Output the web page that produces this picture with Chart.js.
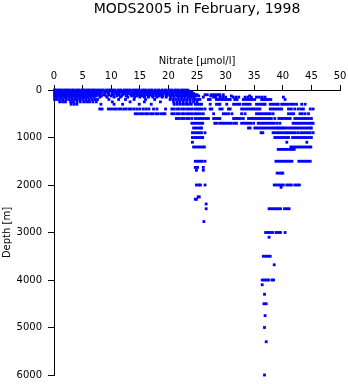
<!DOCTYPE html>
<html>
<head>
<meta charset="utf-8">
<script src="https://cdn.jsdelivr.net/npm/chart.js@4/dist/chart.umd.min.js"></script>
<style>
  html, body { margin: 0; padding: 0; background: #fff; }
  #wrap { width: 348px; height: 384px; }
</style>
</head>
<body>
<div id="wrap"><canvas id="chart" width="348" height="384"></canvas></div>
<script>
// Observed depth levels [m] and the nitrate values [umol/l] read at each level
const depthLevels = [0, 20, 50, 75, 100, 125, 150, 200, 250, 300, 400, 500, 600, 700, 800, 900, 1000,
  1100, 1200, 1250, 1500, 1630, 1690, 1750, 2000, 2050, 2250, 2300, 2400, 2500, 2770, 3000, 3100,
  3500, 3680, 4000, 4100, 4300, 4500, 4750, 5000, 5300, 6000];

const nitrateAtLevel = [
  // 0 m
  [0.1,0.5,0.9,1.3,1.8,2.2,2.6,3.1,3.5,4.0,4.4,4.9,5.3,5.8,6.2,6.7,7.1,7.6,8.1,8.6,9.2,9.7,10.1,10.6,11.2,11.7,
   12.3,12.8,13.3,13.9,14.4,14.9,15.5,16.0,16.6,17.1,17.7,18.3,18.9,19.5,20.1,20.6,21.2,21.7,22.3,22.8,23.3],
  // 20 m
  [0.2,0.7,1.1,1.6,2.0,2.5,2.9,3.4,3.8,4.3,4.7,5.2,5.6,6.1,6.5,7.0,7.4,7.9,8.4,8.9,9.4,10.0,10.5,11.0,11.5,12.0,
   12.6,13.1,13.6,14.2,14.7,15.2,15.8,16.3,16.9,17.4,18.0,18.6,19.2,19.8,20.4,20.9,21.5,22.0,22.6,23.1,23.6],
  // 50 m
  [0.1,0.6,1.0,1.5,2.0,2.4,2.9,3.3,3.8,4.2,4.7,5.1,5.6,6.0,6.5,6.9,7.4,7.8,8.3,9.0,9.6,10.3,10.8,11.4,11.9,12.5,
   13.0,13.7,14.3,14.8,15.4,15.9,16.5,17.0,17.6,18.2,18.7,19.3,19.9,20.5,21.1,21.6,22.2,22.7,23.2,23.7,24.1],
  // 75 m
  [0.2,0.6,1.1,1.5,2.0,2.4,2.9,3.3,3.8,4.2,4.7,5.1,5.6,6.0,6.5,7.0,7.5,8.1,8.8,9.5,10.2,10.9,11.4,12.2,12.9,13.5,
   14.1,14.6,15.2,15.7,16.3,16.8,17.4,18.0,18.5,19.1,19.7,20.3,20.8,21.4,21.9,22.5,23.0,23.5,24.0,24.4],
  // 100 m
  [0.1,0.5,1.0,1.4,1.9,2.3,2.8,3.2,3.7,4.1,4.6,5.0,5.5,5.9,6.4,6.8,7.3,7.9,8.7,9.6,10.4,11.3,12.0,12.7,13.4,14.0,
   14.6,15.1,15.7,16.2,16.8,17.3,17.9,18.5,19.0,19.6,20.2,20.7,21.3,21.8,22.4,22.9,23.4,23.9,24.3,24.7,25.0,
   26.4,26.8,27.5,27.9,28.3,28.7,29.0,29.6],
  // 125 m
  [0.2,0.6,1.1,1.5,2.0,2.4,2.9,3.3,3.8,4.2,4.7,5.1,5.6,6.0,6.5,6.9,7.4,8.3,9.1,10.0,11.0,11.8,12.6,13.6,14.5,15.3,
   15.9,16.6,17.2,17.8,18.4,19.0,19.7,20.3,20.9,21.5,22.1,22.6,23.2,23.7,24.2,24.8,25.3,27.4,31.0,34.2],
  // 150 m
  [0.1,0.5,1.0,1.4,1.9,2.3,2.8,3.2,3.7,4.1,4.6,5.0,5.5,5.9,6.4,7.0,8.0,9.3,10.5,11.6,12.9,14.1,15.0,15.8,16.5,17.3,
   18.0,18.9,19.6,20.4,21.0,21.7,22.3,22.9,23.5,24.0,24.5,26.1,27.9,28.3,29.0,29.5,30.0,31.3,31.8,32.3,
   33.4,33.9,34.5,35.4,35.9,36.4,36.9,40.1],
  // 200 m
  [0.1,0.6,1.1,1.6,2.1,2.6,3.1,3.6,4.1,4.6,5.1,5.6,6.1,6.6,7.1,7.6,9.6,11.3,12.5,14.0,16.0,17.6,20.3,20.8,21.3,
   21.8,22.3,22.8,23.3,23.8,24.3,24.7,25.1,25.5,27.0,27.3,28.4,28.8,29.2,29.6,30.0,30.4,30.8,31.6,32.0,
   33.1,33.5,33.9,34.3,34.7,35.1,36.3,36.7,37.1,37.5,37.9,40.4],
  // 250 m
  [1.0,1.5,2.0,2.9,3.4,4.0,4.6,5.2,5.7,6.2,6.8,7.4,10.2,13.3,15.8,18.6,20.9,21.5,22.0,22.6,23.2,23.8,24.4,25.0],
  // 300 m
  [3.0,3.5,4.0,8.2,10.5,12.0,14.9,17.0,21.0,21.5,22.0,22.5,23.0,23.5,24.0,24.7,25.1,25.5,25.8,27.3,28.4,28.8,
   29.0,30.2,31.4,31.8,32.2,32.5,33.1,33.5,33.9,34.3,35.4,35.8,36.2,36.6,36.9,37.8,38.2,38.6,39.0,39.2,
   39.8,40.2,40.6,41.0,41.5,41.9,42.4,43.3,43.9],
  // 400 m
  [8.0,8.4,9.5,9.9,10.4,10.8,11.3,11.7,12.2,12.6,13.1,13.5,14.0,14.5,15.0,15.6,16.1,16.6,17.4,18.0,19.5,20.6,
   21.0,21.5,21.9,22.4,22.8,23.3,23.7,24.2,24.7,25.1,25.5,25.9,26.4,27.3,27.6,29.0,29.4,30.5,30.8,32.8,33.2,
   33.6,34.0,34.4,34.8,35.2,35.6,36.0,37.8,38.2,38.6,39.0,39.4,39.8,41.0,41.5,42.1,42.7,43.2,43.6,44.8,45.3],
  // 500 m
  [14.2,14.6,15.1,15.5,16.0,16.4,16.9,17.3,17.8,18.2,18.7,19.1,19.4,20.6,21.0,21.5,21.9,22.4,22.8,23.3,23.7,
   24.2,24.7,25.1,25.6,26.1,27.9,29.6,30.0,30.5,31.1,32.8,33.4,35.4,35.8,36.2,36.6,37.0,37.4,37.8,38.3,
   41.0,41.5,41.9,43.0,43.4,43.9,44.5],
  // 600 m
  [21.4,21.8,22.3,22.7,23.2,23.6,24.1,24.7,25.1,25.5,25.9,26.3,26.7,27.0,27.9,28.3,28.7,29.0,31.4,31.8,32.2,
   32.6,33.1,34.0,34.4,34.8,35.2,35.6,36.0,36.4,36.8,37.2,37.6,38.0,38.6,39.3,39.7,40.1,40.5,40.9,41.3,
   42.1,42.5,42.9,43.3,43.7,44.1,44.5,45.0],
  // 700 m
  [24.1,24.5,24.9,25.3,25.7,26.0,28.1,28.5,29.0,29.4,29.8,30.2,30.6,31.0,31.5,31.9,32.8,33.2,33.6,34.0,34.4,
   34.9,35.7,36.1,36.5,36.9,37.3,37.7,38.1,38.5,39.0,39.5,41.8,42.2,42.6,43.0,43.4,43.8,44.2,44.6,45.0,45.3],
  // 800 m
  [24.4,24.8,25.2,25.6,25.8,34.0,34.3,35.1,35.5,35.9,36.3,36.7,37.1,37.5,37.9,38.3,38.6,39.0,39.2,39.5,39.8,
   40.1,40.4,40.8,41.2,41.6,42.0,42.4,42.8,43.2,43.6,44.0,44.4,44.8,45.0],
  // 900 m
  [24.2,24.6,25.0,25.4,25.8,26.4,36.2,36.5,38.3,38.7,39.1,39.5,39.9,40.3,40.7,41.0,41.4,41.8,42.2,42.7,
   43.2,43.6,44.0,44.4,44.8,45.3],
  // 1000 m
  [24.2,24.6,25.0,25.4,25.8,26.0,38.6,39.0,39.4,39.8,40.2,40.6,41.0,41.7,42.1,42.5,42.9,43.3,43.7,44.1,44.5,45.0],
  // 1100 m
  [24.2, 40.7, 44.2],
  // 1200 m
  [24.4,24.8,25.2,25.6,26.0,26.3,41.4,41.8,42.2,42.6,43.0,43.4,43.8,44.2,44.6,44.9],
  // 1250 m
  [39.2,39.6,40.0,40.4,40.8,41.2,41.6,42.0],
  // 1500 m
  [24.7,25.1,25.5,25.9,26.4,38.8,39.2,39.6,40.0,40.4,40.8,41.2,41.6,42.8,43.2,43.6,44.0,44.4,44.8],
  // 1630 m
  [24.7, 25.1, 26.1],
  // 1690 m
  [24.9, 26.1],
  // 1750 m
  [39.0, 39.4, 39.8, 40.0],
  // 2000 m
  [24.9,25.3,25.6,26.4,38.5,38.9,39.3,39.7,40.1,40.7,41.1,41.5,42.1,42.5,42.9],
  // 2050 m
  [39.7],
  // 2250 m
  [25.2, 25.4],
  // 2300 m
  [24.7, 24.9],
  // 2400 m
  [26.6],
  // 2500 m
  [26.6,37.6,38.0,38.4,38.8,39.2,39.6,40.3,40.7,41.1],
  // 2770 m
  [26.2],
  // 3000 m
  [37.0,37.4,37.8,38.2,38.8,39.2,39.6,40.4],
  // 3100 m
  [37.6],
  // 3500 m
  [36.6, 37.0, 37.4, 37.8],
  // 3680 m
  [38.5],
  // 4000 m
  [36.4, 36.8, 37.2, 37.5, 38.1, 38.4],
  // 4100 m
  [36.4],
  // 4300 m
  [36.8],
  // 4500 m
  [36.7, 37.1],
  // 4750 m
  [36.9],
  // 5000 m
  [36.8],
  // 5300 m
  [37.1],
  // 6000 m
  [36.8]
];

const nitrateTicks = { min: 0, max: 50, step: 5 };
const depthTicks = { min: 0, max: 6000, step: 1000 };

const points = [];
depthLevels.forEach((d, i) => {
  nitrateAtLevel[i].forEach(n => points.push({ x: n, y: d }));
});

Chart.defaults.font.family = 'DejaVu Sans';
Chart.defaults.color = '#000';

// title centred over the plot area, like the original
const plotTitle = {
  id: 'plotTitle',
  afterDraw(chart) {
    const ctx = chart.ctx;
    const area = chart.chartArea;
    ctx.save();
    ctx.font = '14px "DejaVu Sans"';
    ctx.fillStyle = '#000';
    ctx.textAlign = 'center';
    ctx.textBaseline = 'alphabetic';
    ctx.fillText('MODS2005 in February, 1998', (area.left + area.right) / 2, 13);
    ctx.restore();
  }
};

new Chart(document.getElementById('chart').getContext('2d'), {
  type: 'scatter',
  data: {
    datasets: [{
      data: points,
      pointStyle: 'rect',
      pointRadius: 2,
      pointBorderWidth: 0,
      backgroundColor: '#0000ff',
      borderColor: '#0000ff',
      clip: false
    }]
  },
  options: {
    responsive: false,
    animation: false,
    events: [],
    layout: { padding: { top: 40, right: 8, bottom: 9, left: 0 } },
    plugins: {
      legend: { display: false },
      tooltip: { enabled: false }
    },
    scales: {
      x: {
        type: 'linear',
        position: 'top',
        min: nitrateTicks.min,
        max: nitrateTicks.max,
        ticks: { stepSize: nitrateTicks.step, padding: 3, maxRotation: 0, font: { size: 10 }, color: '#000' },
        grid: { display: true, drawOnChartArea: false, drawTicks: true, tickLength: 5, color: '#000' },
        border: { display: true, color: '#000', width: 1 },
        title: { display: true, text: 'Nitrate [µmol/l]', color: '#000', font: { size: 10 }, padding: { top: 15, bottom: 0 } },
        afterFit: s => { s.height = 50; s.paddingLeft = 0; s.paddingRight = 0; }
      },
      y: {
        type: 'linear',
        reverse: true,
        min: depthTicks.min,
        max: depthTicks.max,
        ticks: { stepSize: depthTicks.step, padding: 6, font: { size: 10 }, color: '#000', callback: v => String(v) },
        grid: { display: true, drawOnChartArea: false, drawTicks: true, tickLength: 6, color: '#000' },
        border: { display: true, color: '#000', width: 1 },
        title: { display: true, text: 'Depth [m]', color: '#000', font: { size: 10 }, padding: { top: 1, bottom: 0 } },
        afterFit: s => { s.width = 54; s.paddingTop = 0; s.paddingBottom = 0; }
      }
    }
  },
  plugins: [plotTitle]
});
</script>
</body>
</html>
